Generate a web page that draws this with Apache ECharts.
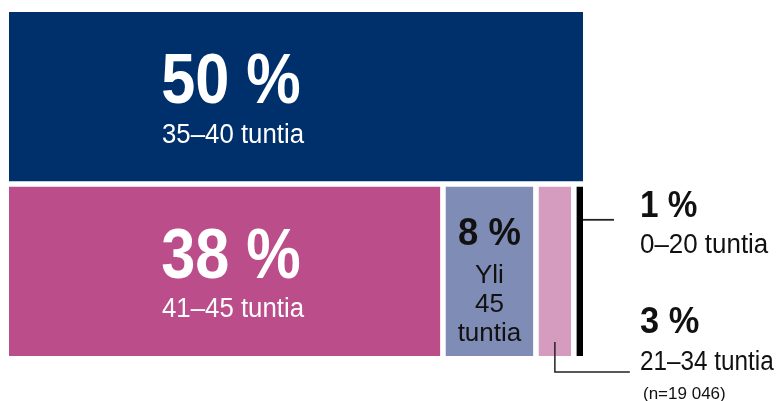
<!DOCTYPE html>
<html>
<head>
<meta charset="utf-8">
<script src="https://cdn.jsdelivr.net/npm/echarts@6/dist/echarts.min.js"></script>
<style>
  html, body { margin: 0; padding: 0; background: #ffffff; }
  #chart { width: 779px; height: 401px; }
</style>
</head>
<body>
<div id="chart"></div>
<script>
// ---- data ----
const groups = ['35–40 tuntia', '41–45 tuntia', 'Yli 45 tuntia', '21–34 tuntia', '0–20 tuntia'];
const shares = [50.0, 37.8, 8.1, 3.3, 0.8];   // per cent of respondents (estimated from areas)
const rows = [1, 0, 0, 0, 0];                  // 1 = upper row, 0 = lower row
const sampleNote = '(n=19 046)';

// ---- styles ----
const colors = ['#00306b', '#bb4d8a', '#7f8cb5', '#d69cbf', '#000000'];
const FONT = '"Liberation Sans", Arial, sans-serif';
const GAP = 2.8;   // half gap between tiles (px)

// build tile data from arrays: [start, end, row, index]
const cum = {};
const tiles = shares.map(function (v, i) {
  const r = rows[i];
  const s = cum[r] || 0;
  cum[r] = s + v;
  return [s, s + v, r, i];
});
const rowTotals = cum;

function txt(text, x, y, size, weight, fill, align, sx) {
  return {
    type: 'text',
    silent: true,
    x: x, y: y,
    scaleX: sx || 1, scaleY: 1,
    originX: 0, originY: 0,
    style: {
      text: text, x: 0, y: 0,
      font: weight + ' ' + size + 'px ' + FONT,
      fill: fill,
      textAlign: align || 'center', align: align || 'center',
      textVerticalAlign: 'middle', verticalAlign: 'middle'
    },
    z2: 10
  };
}

function renderItem(params, api) {
  const s = api.value(0), e = api.value(1), r = api.value(2), idx = api.value(3);
  const total = rowTotals[r];
  const pTop = api.coord([s, r + 1]);
  const pBot = api.coord([e, r]);
  let x0 = pTop[0], x1 = pBot[0];
  let y0 = pTop[1], y1 = pBot[1];
  // gaps between rows and tiles
  if (r === 0) y0 += GAP; else y1 -= GAP;
  if (s > 0) x0 += GAP;
  if (e < total - 1e-9) x1 -= GAP;
  const w = x1 - x0, h = y1 - y0;
  const cx = (x0 + x1) / 2, cy = (y0 + y1) / 2;
  const pct = Math.round(shares[idx]) + ' %';
  const children = [{
    type: 'rect',
    shape: { x: x0, y: y0, width: w, height: h },
    style: { fill: colors[idx] }
  }];
  const rightEdge = api.coord([rowTotals[0], 0])[0];
  const outX = rightEdge + 57;
  if (idx === 0 || idx === 1) {
    const lx = x0 + 222;
    children.push(txt(pct, lx, cy - 13, 70, 'bold', '#ffffff', 'center', 0.875));
    children.push(txt(groups[idx], lx + 2, cy + 38.5, 27, 'normal', '#ffffff', 'center', 0.955));
  } else if (idx === 2) {
    children.push(txt(pct, cx, cy - 37, 38, 'bold', '#111111', 'center', 0.96));
    const parts = ['Yli', '45', 'tuntia'];
    parts.forEach(function (p, k) {
      children.push(txt(p, cx, cy + 4.5 + k * 29, 26, 'normal', '#111111', 'center', 1));
    });
  } else if (idx === 4) {
    const ly = y0 + 33;
    children.push({
      type: 'line', silent: true,
      shape: { x1: x1, y1: ly, x2: x1 + 31, y2: ly },
      style: { stroke: '#222222', lineWidth: 1.8 }
    });
    children.push(txt(pct, outX, y0 + 20, 37, 'bold', '#111111', 'left', 0.9));
    children.push(txt(groups[idx], outX, y0 + 59, 27, 'normal', '#111111', 'left', 0.96));
  } else if (idx === 3) {
    children.push({
      type: 'polyline', silent: true,
      shape: { points: [[cx, y1 - 14], [cx, y1 + 16], [cx + 75, y1 + 16]] },
      style: { stroke: '#222222', lineWidth: 1.5, fill: null }
    });
    children.push(txt(pct, outX, y0 + 136, 37, 'bold', '#111111', 'left', 0.93));
    children.push(txt(groups[idx], outX, y0 + 176, 27, 'normal', '#111111', 'left', 0.9));
    children.push(txt(sampleNote, outX + 3, y0 + 208, 17, 'normal', '#111111', 'left', 1));
  }
  return { type: 'group', children: children };
}

const chart = echarts.init(document.getElementById('chart'), null, { renderer: 'canvas' });
chart.setOption({
  animation: false,
  backgroundColor: '#ffffff',
  grid: { left: 9, right: 196, top: 12, bottom: 45 },
  xAxis: { type: 'value', min: 0, max: 50, show: false },
  yAxis: { type: 'value', min: 0, max: 2, show: false },
  series: [{
    type: 'custom',
    name: 'Työtunnit viikossa',
    renderItem: renderItem,
    clip: false,
    encode: { x: [0, 1], y: 2 },
    data: tiles
  }]
});
</script>
</body>
</html>
